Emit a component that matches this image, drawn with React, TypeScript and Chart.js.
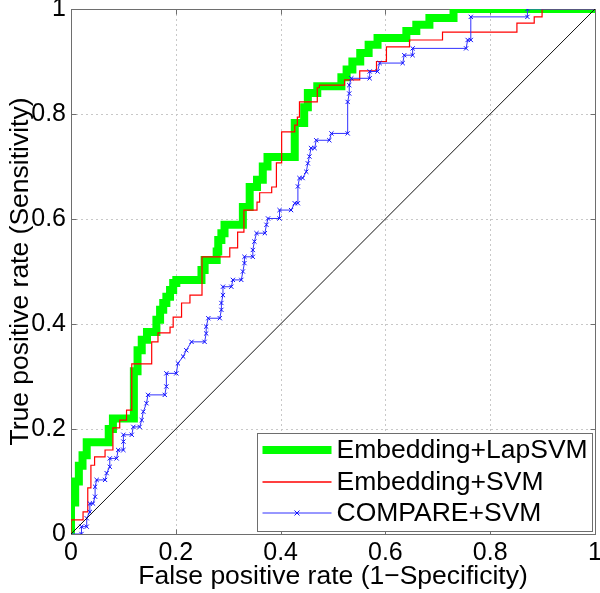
import React, { useEffect, useRef } from 'react';
import { Chart, registerables } from 'chart.js';

Chart.register(...registerables);

// ---- Data ----
const lapFpr = [0, 0, 0.008, 0.008, 0.015, 0.015, 0.022, 0.022, 0.03, 0.03, 0.072, 0.072, 0.08, 0.08, 0.12, 0.12, 0.127, 0.127, 0.135, 0.135, 0.145, 0.145, 0.163, 0.163, 0.17, 0.17, 0.176, 0.176, 0.182, 0.182, 0.189, 0.189, 0.195, 0.195, 0.201, 0.201, 0.249, 0.249, 0.255, 0.255, 0.278, 0.278, 0.281, 0.281, 0.287, 0.287, 0.293, 0.293, 0.328, 0.328, 0.341, 0.341, 0.355, 0.355, 0.366, 0.366, 0.375, 0.375, 0.427, 0.427, 0.445, 0.445, 0.452, 0.452, 0.47, 0.47, 0.516, 0.516, 0.526, 0.526, 0.537, 0.537, 0.552, 0.552, 0.568, 0.568, 0.585, 0.585, 0.64, 0.64, 0.659, 0.659, 0.684, 0.684, 0.73, 0.73, 1];
const lapTpr = [0, 0.06, 0.06, 0.1, 0.1, 0.13, 0.13, 0.15, 0.15, 0.175, 0.175, 0.2, 0.2, 0.22, 0.22, 0.31, 0.31, 0.35, 0.35, 0.37, 0.37, 0.385, 0.385, 0.408, 0.408, 0.427, 0.427, 0.44, 0.44, 0.452, 0.452, 0.465, 0.465, 0.478, 0.478, 0.484, 0.484, 0.503, 0.503, 0.522, 0.522, 0.538, 0.538, 0.56, 0.56, 0.573, 0.573, 0.589, 0.589, 0.623, 0.623, 0.661, 0.661, 0.675, 0.675, 0.7, 0.7, 0.718, 0.718, 0.783, 0.783, 0.813, 0.813, 0.84, 0.84, 0.853, 0.853, 0.87, 0.87, 0.885, 0.885, 0.9, 0.9, 0.916, 0.916, 0.932, 0.932, 0.945, 0.945, 0.958, 0.958, 0.97, 0.97, 0.983, 0.983, 1, 1];

const svmFpr = [0, 0, 0.023, 0.023, 0.032, 0.032, 0.038, 0.038, 0.045, 0.045, 0.065, 0.065, 0.08, 0.08, 0.093, 0.093, 0.106, 0.106, 0.116, 0.116, 0.154, 0.154, 0.166, 0.166, 0.189, 0.189, 0.195, 0.195, 0.211, 0.211, 0.227, 0.227, 0.25, 0.25, 0.303, 0.303, 0.318, 0.318, 0.33, 0.33, 0.355, 0.355, 0.36, 0.36, 0.383, 0.383, 0.392, 0.392, 0.402, 0.402, 0.427, 0.427, 0.432, 0.432, 0.436, 0.436, 0.47, 0.47, 0.474, 0.474, 0.522, 0.522, 0.551, 0.551, 0.583, 0.583, 0.602, 0.602, 0.646, 0.646, 0.709, 0.709, 0.851, 0.851, 0.884, 0.884, 0.899, 0.899, 1];
const svmTpr = [0, 0.027, 0.027, 0.042, 0.042, 0.088, 0.088, 0.131, 0.131, 0.147, 0.147, 0.16, 0.16, 0.202, 0.202, 0.217, 0.217, 0.236, 0.236, 0.324, 0.324, 0.366, 0.366, 0.383, 0.383, 0.394, 0.394, 0.413, 0.413, 0.44, 0.44, 0.455, 0.455, 0.528, 0.528, 0.545, 0.545, 0.575, 0.575, 0.617, 0.617, 0.632, 0.632, 0.65, 0.65, 0.661, 0.661, 0.707, 0.707, 0.766, 0.766, 0.779, 0.779, 0.794, 0.794, 0.823, 0.823, 0.85, 0.85, 0.855, 0.855, 0.865, 0.865, 0.882, 0.882, 0.9, 0.9, 0.928, 0.928, 0.941, 0.941, 0.956, 0.956, 0.973, 0.973, 0.985, 0.985, 1, 1];

const cmpFpr = [0, 0.02, 0.02, 0.03, 0.03, 0.036, 0.036, 0.042, 0.046, 0.046, 0.049, 0.065, 0.068, 0.074, 0.074, 0.087, 0.09, 0.1, 0.1, 0.1, 0.116, 0.119, 0.131, 0.135, 0.138, 0.144, 0.147, 0.179, 0.182, 0.182, 0.201, 0.204, 0.214, 0.22, 0.23, 0.255, 0.258, 0.258, 0.262, 0.284, 0.287, 0.287, 0.29, 0.29, 0.306, 0.309, 0.325, 0.328, 0.331, 0.331, 0.347, 0.347, 0.35, 0.354, 0.37, 0.373, 0.376, 0.398, 0.398, 0.42, 0.427, 0.433, 0.433, 0.436, 0.442, 0.449, 0.452, 0.455, 0.458, 0.465, 0.468, 0.493, 0.497, 0.528, 0.528, 0.531, 0.531, 0.535, 0.57, 0.57, 0.585, 0.589, 0.633, 0.636, 0.652, 0.652, 0.754, 0.757, 0.763, 0.763, 0.871, 0.871, 1];
const cmpTpr = [0, 0, 0.014, 0.014, 0.03, 0.042, 0.058, 0.058, 0.071, 0.09, 0.103, 0.103, 0.116, 0.128, 0.144, 0.144, 0.16, 0.16, 0.176, 0.189, 0.189, 0.204, 0.204, 0.217, 0.233, 0.249, 0.265, 0.265, 0.281, 0.306, 0.306, 0.325, 0.338, 0.35, 0.366, 0.366, 0.382, 0.395, 0.411, 0.411, 0.427, 0.44, 0.455, 0.471, 0.471, 0.484, 0.484, 0.5, 0.516, 0.528, 0.528, 0.541, 0.557, 0.573, 0.573, 0.589, 0.601, 0.601, 0.617, 0.617, 0.63, 0.63, 0.662, 0.678, 0.678, 0.69, 0.706, 0.719, 0.735, 0.735, 0.75, 0.75, 0.763, 0.763, 0.823, 0.839, 0.855, 0.868, 0.868, 0.881, 0.881, 0.897, 0.897, 0.912, 0.912, 0.925, 0.925, 0.941, 0.941, 0.985, 0.985, 1, 1];

const chanceFpr = [0, 1];
const chanceTpr = [0, 1];

const tickValues = [0, 0.2, 0.4, 0.6, 0.8, 1];
const seriesLabels = ['Embedding+LapSVM', 'Embedding+SVM', 'COMPARE+SVM'];
const xTitle = 'False positive rate (1\u2212Specificity)';
const yTitle = 'True positive rate (Sensitivity)';

const FONT = "'Liberation Sans', Arial, Helvetica, sans-serif";

const toPts = (xs: number[], ys: number[]) => xs.map((x, i) => ({ x, y: ys[i] }));

const framePlugin = {
  id: 'matlabFrame',
  beforeDatasetsDraw(chart: any) {
    const { ctx, chartArea } = chart;
    const xs = chart.scales.x;
    const ys = chart.scales.y;
    const { left, right, top, bottom } = chartArea;
    ctx.save();
    ctx.strokeStyle = '#c8c8c8';
    ctx.lineWidth = 1;
    ctx.setLineDash([2, 3]);
    tickValues.forEach((v) => {
      if (v === 0 || v === 1) return;
      const px = Math.round(xs.getPixelForValue(v)) + 0.5;
      ctx.beginPath();
      ctx.moveTo(px, top);
      ctx.lineTo(px, bottom);
      ctx.stroke();
      const py = Math.round(ys.getPixelForValue(v)) + 0.5;
      ctx.beginPath();
      ctx.moveTo(left, py);
      ctx.lineTo(right, py);
      ctx.stroke();
    });
    ctx.setLineDash([]);
    ctx.strokeStyle = '#6e6e6e';
    ctx.lineWidth = 1;
    const l = Math.round(left) + 0.5, r = Math.round(right) + 0.5;
    const t = Math.round(top) + 0.5, b = Math.round(bottom) + 0.5;
    ctx.strokeRect(l, t, r - l, b - t);
    const tl = 5;
    tickValues.forEach((v) => {
      const px = Math.round(xs.getPixelForValue(v)) + 0.5;
      ctx.beginPath();
      ctx.moveTo(px, b); ctx.lineTo(px, b - tl);
      ctx.moveTo(px, t); ctx.lineTo(px, t + tl);
      ctx.stroke();
      const py = Math.round(ys.getPixelForValue(v)) + 0.5;
      ctx.beginPath();
      ctx.moveTo(l, py); ctx.lineTo(l + tl, py);
      ctx.moveTo(r, py); ctx.lineTo(r - tl, py);
      ctx.stroke();
    });
    ctx.restore();
  },
};

const legendPlugin = {
  id: 'matlabLegend',
  afterDraw(chart: any) {
    const { ctx, chartArea } = chart;
    const boxRight = chartArea.right - 3;
    const boxBottom = chartArea.bottom - 3;
    const boxW = 335;
    const boxH = 98;
    const bx = Math.round(boxRight - boxW) + 0.5;
    const by = Math.round(boxBottom - boxH) + 0.5;
    ctx.save();
    ctx.fillStyle = '#ffffff';
    ctx.fillRect(bx, by, boxW, boxH);
    ctx.strokeStyle = '#6e6e6e';
    ctx.lineWidth = 1;
    ctx.strokeRect(bx, by, boxW, boxH);
    const rowY = [16, 48, 79];
    const colors = ['#00ff00', '#ff0000', '#3030ff'];
    const widths = [8, 1.5, 1];
    ctx.font = `26.5px ${FONT}`;
    ctx.textBaseline = 'middle';
    ctx.textAlign = 'left';
    rowY.forEach((dy, i) => {
      const y = Math.round(by + dy);
      ctx.strokeStyle = colors[i];
      ctx.lineWidth = widths[i];
      ctx.beginPath();
      ctx.moveTo(bx + 5, y);
      ctx.lineTo(bx + 74, y);
      ctx.stroke();
      if (i === 2) {
        const cx = bx + 39.5;
        ctx.strokeStyle = '#1010ff';
        ctx.beginPath();
        ctx.moveTo(cx - 2.5, y - 2.5); ctx.lineTo(cx + 2.5, y + 2.5);
        ctx.moveTo(cx - 2.5, y + 2.5); ctx.lineTo(cx + 2.5, y - 2.5);
        ctx.stroke();
      }
      ctx.fillStyle = '#000000';
      ctx.fillText(seriesLabels[i], bx + 79, y + 1);
    });
    ctx.restore();
  },
};

export default function App() {
  const ref = useRef<HTMLCanvasElement | null>(null);
  useEffect(() => {
    if (!ref.current) return;
    const chart = new Chart(ref.current, {
      type: 'line',
      data: {
        datasets: [
          {
            label: seriesLabels[0],
            data: toPts(lapFpr, lapTpr),
            borderColor: '#00ff00',
            borderWidth: 8,
            pointRadius: 0,
            fill: false,
            tension: 0,
            order: 4,
          },
          {
            label: seriesLabels[1],
            data: toPts(svmFpr, svmTpr),
            borderColor: '#ff0000',
            borderWidth: 1.2,
            pointRadius: 0,
            fill: false,
            tension: 0,
            order: 3,
          },
          {
            label: seriesLabels[2],
            data: toPts(cmpFpr, cmpTpr),
            borderColor: '#3030ff',
            borderWidth: 1,
            pointStyle: 'crossRot',
            pointRadius: 3,
            pointBorderWidth: 1,
            pointBorderColor: '#1010ff',
            pointBackgroundColor: '#1010ff',
            fill: false,
            tension: 0,
            order: 2,
          },
          {
            label: 'chance',
            data: toPts(chanceFpr, chanceTpr),
            borderColor: '#111111',
            borderWidth: 1,
            pointRadius: 0,
            fill: false,
            order: 1,
          },
        ],
      },
      options: {
        animation: false,
        responsive: false,
        devicePixelRatio: 1,
        layout: { padding: { left: 0, top: 9, right: 4, bottom: 0 } },
        plugins: {
          legend: { display: false },
          tooltip: { enabled: false },
        },
        scales: {
          x: {
            type: 'linear',
            min: 0,
            max: 1,
            grid: { display: false, drawTicks: false },
            border: { display: false },
            ticks: {
              stepSize: 0.2,
              padding: 4,
              color: '#000',
              font: { family: FONT, size: 25 },
              maxRotation: 0,
              callback: (v: any) => String(Math.round(Number(v) * 10) / 10),
            },
            title: {
              display: true,
              text: xTitle,
              color: '#000',
              font: { family: FONT, size: 26.5 },
              padding: { top: 0, bottom: 0 },
            },
            afterFit: (s: any) => {
              s.height = 59;
              s.paddingLeft = 0;
              s.paddingRight = 0;
            },
          },
          y: {
            type: 'linear',
            min: 0,
            max: 1,
            grid: { display: false, drawTicks: false },
            border: { display: false },
            ticks: {
              stepSize: 0.2,
              padding: 5,
              color: '#000',
              font: { family: FONT, size: 25 },
              callback: (v: any) => String(Math.round(Number(v) * 10) / 10),
            },
            title: {
              display: true,
              text: yTitle,
              color: '#000',
              font: { family: FONT, size: 26.5 },
              padding: { top: 5, bottom: 0 },
            },
            afterFit: (s: any) => {
              s.width = 71;
              s.paddingTop = 0;
              s.paddingBottom = 0;
            },
          },
        },
      },
      plugins: [framePlugin, legendPlugin],
    });
    return () => chart.destroy();
  }, []);
  return (
    <div style={{ position: 'absolute', left: 0, top: 0, width: 600, height: 593, background: '#fff' }}>
      <canvas ref={ref} width={600} height={593} />
    </div>
  );
}
